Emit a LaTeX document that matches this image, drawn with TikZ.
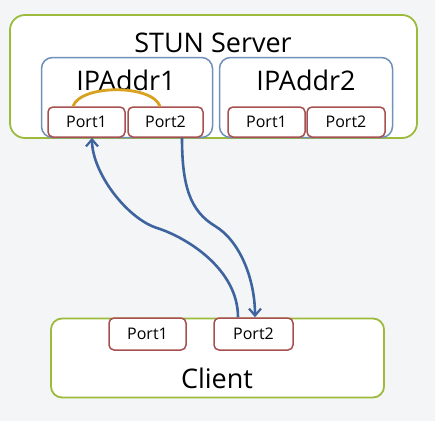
\documentclass[tikz,border=0pt]{standalone}
\usepackage{fontspec}
\setmainfont{Open Sans}
\usetikzlibrary{arrows.meta}
\definecolor{bggray}{HTML}{F4F5F6}
\definecolor{boxgreen}{HTML}{9CBB3D}
\definecolor{boxblue}{HTML}{7090BC}
\definecolor{portred}{HTML}{A65050}
\definecolor{arrowblue}{HTML}{3E64A0}
\definecolor{arcorange}{HTML}{D9A21E}
\tikzset{
  serverbox/.style={draw=boxgreen, line width=1.8pt, fill=white, rounded corners=15pt, inner sep=0pt},
  ipbox/.style={draw=boxblue, line width=1.5pt, fill=white, rounded corners=11pt, inner sep=0pt},
  portbox/.style={draw=portred, line width=1.5pt, fill=white, rounded corners=5pt, inner sep=0pt, font=\fontsize{16}{18}\selectfont},
  bigtext/.style={font=\fontsize{27}{30}\selectfont, inner sep=0pt},
  flow/.style={draw=arrowblue, line width=2.6pt, -{Straight Barb[length=7pt,width=12pt,line width=2.2pt]}},
  swap/.style={draw=arcorange, line width=2.8pt}
}
\begin{document}
\begin{tikzpicture}[x=1pt, y=-1pt]
\useasboundingbox (0,0) rectangle (435,421);
\fill[bggray] (0,0) rectangle (435,421);
% server
\node[serverbox, minimum width=407pt, minimum height=123pt] (server) at (213.5,76.5) {};
\node[bigtext] (servertext) at (213,43) {STUN Server};
\node[ipbox, minimum width=171pt, minimum height=80pt] (ip1) at (127,97.5) {};
\node[ipbox, minimum width=173pt, minimum height=80pt] (ip2) at (306,97.5) {};
\node[bigtext] (ip1text) at (126,80) {IPAddr1};
\node[bigtext] (ip2text) at (306,80) {IPAddr2};
\node[portbox, minimum width=77pt, minimum height=30pt] (s1p1) at (86.5,122) {Port1};
\node[portbox, minimum width=75pt, minimum height=30pt] (s1p2) at (165.5,122) {Port2};
\node[portbox, minimum width=77pt, minimum height=30pt] (s2p1) at (266.5,122) {Port1};
\node[portbox, minimum width=78pt, minimum height=30pt] (s2p2) at (346,122) {Port2};
% client
\node[serverbox, rounded corners=11pt, minimum width=333pt, minimum height=79pt] (client) at (217.5,358) {};
\node[bigtext] (clienttext) at (217,378) {Client};
\node[portbox, minimum width=77pt, minimum height=32pt] (c1) at (147.5,334) {Port1};
\node[portbox, minimum width=79pt, minimum height=32pt] (c2) at (253.5,334) {Port2};
% swap arc
\draw[swap] ([xshift=-5.5pt]s1p2.north) .. controls +(-8,-22) and +(8,-22) .. ([xshift=-13.5pt]s1p1.north);
% flows
\coordinate (m1) at (157,228);
\coordinate (m2) at (215,226);
\draw[flow] ([xshift=-15.5pt]c2.north) .. controls +(0,-48) and +(30,9.5) .. (m1)
  .. controls +(-30,-9.5) and +(0,35) .. ([xshift=5.5pt]s1p1.south);
\draw[flow] ([xshift=16.5pt]s1p2.south) .. controls +(0,48) and +(-25,-15) .. (m2)
  .. controls +(25,15) and +(0,-38) .. ([xshift=1.5pt]c2.north);
\end{tikzpicture}
\end{document}
